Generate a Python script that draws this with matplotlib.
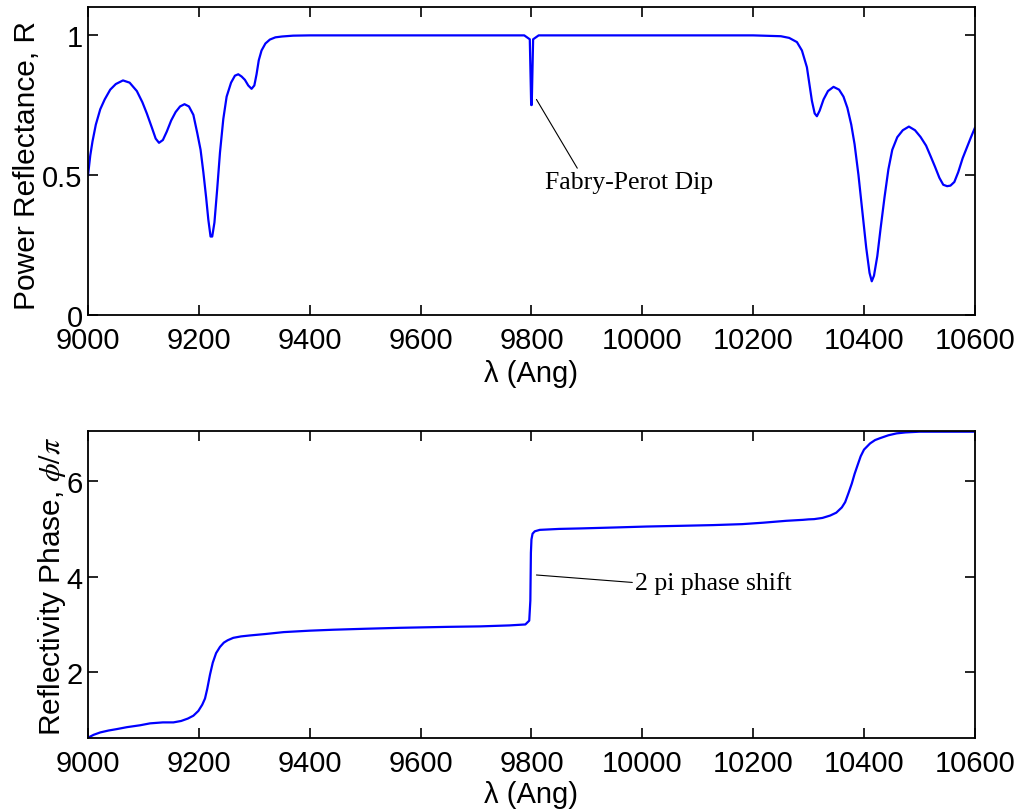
"""Reflectance and reflection phase of a DBR with a Fabry-Perot defect.

Output: out.png
"""

import matplotlib
matplotlib.use("Agg")
import matplotlib.pyplot as plt

# --- Power reflectance ---
wl_r = [9000, 9004, 9008, 9014, 9022, 9030, 9040, 9050, 9063, 9075, 9088, 9098,
        9106, 9115, 9122, 9128, 9135, 9142, 9150, 9158, 9166, 9174, 9182, 9190,
        9197, 9203, 9208, 9213, 9217, 9221, 9224, 9228, 9233, 9238, 9244, 9250,
        9258, 9265, 9271, 9277, 9283, 9289, 9295, 9300, 9304, 9308, 9313, 9320,
        9328, 9338, 9350, 9370, 9400, 9787, 9797, 9799.5, 9800.5, 9803, 9813,
        10200, 10250, 10265, 10279, 10288, 10297, 10306, 10311, 10315, 10320,
        10327, 10335, 10345, 10355, 10363, 10370, 10377, 10383, 10390, 10397,
        10404, 10410, 10414, 10418, 10424, 10430, 10437, 10444, 10451, 10460,
        10470, 10481, 10492, 10502, 10512, 10520, 10528, 10536, 10543, 10550,
        10556, 10563, 10570, 10578, 10586, 10593, 10600]
refl = [0.50, 0.57, 0.62, 0.68, 0.735, 0.77, 0.805, 0.825, 0.838, 0.83, 0.80, 0.76,
        0.72, 0.67, 0.63, 0.615, 0.625, 0.655, 0.695, 0.725, 0.745, 0.753, 0.745, 0.715,
        0.65, 0.59, 0.51, 0.42, 0.34, 0.28, 0.28, 0.33, 0.45, 0.58, 0.70, 0.78,
        0.83, 0.855, 0.86, 0.852, 0.84, 0.82, 0.808, 0.82, 0.86, 0.91, 0.945, 0.97,
        0.984, 0.992, 0.995, 0.998, 0.999, 0.999, 0.985, 0.75, 0.75, 0.985, 0.999,
        0.999, 0.996, 0.99, 0.975, 0.945, 0.885, 0.765, 0.72, 0.71, 0.73,
        0.77, 0.80, 0.815, 0.805, 0.78, 0.74, 0.68, 0.61, 0.50, 0.37,
        0.24, 0.15, 0.12, 0.14, 0.21, 0.31, 0.42, 0.52, 0.59, 0.635,
        0.66, 0.673, 0.66, 0.636, 0.605, 0.568, 0.53, 0.49, 0.465, 0.46,
        0.462, 0.475, 0.51, 0.56, 0.60, 0.635, 0.668]

# --- Reflectivity phase / pi ---
wl_p = [9000, 9010, 9022, 9037, 9052, 9070, 9094, 9112, 9135, 9154, 9168, 9180,
        9190, 9199, 9206, 9211, 9215, 9220, 9225, 9231, 9238, 9245, 9252, 9262,
        9276, 9292, 9320, 9353, 9400, 9443, 9500, 9563, 9650, 9708, 9760, 9789,
        9796, 9798, 9799, 9800, 9802, 9806, 9815, 9850, 9888, 9950, 10008, 10070,
        10128, 10180, 10218, 10260, 10290, 10300, 10310, 10325, 10339, 10350,
        10360, 10366, 10372, 10378, 10383, 10388, 10394, 10400, 10411, 10420,
        10429, 10444, 10459, 10475, 10500, 10560, 10600]
phase = [0.63, 0.69, 0.74, 0.78, 0.81, 0.85, 0.89, 0.93, 0.95, 0.95, 0.98, 1.03,
         1.09, 1.19, 1.32, 1.45, 1.65, 1.95, 2.20, 2.40, 2.53, 2.62, 2.67, 2.72,
         2.75, 2.77, 2.80, 2.84, 2.87, 2.89, 2.91, 2.93, 2.95, 2.96, 2.98, 3.00,
         3.08, 3.50, 4.50, 4.78, 4.90, 4.95, 4.98, 5.00, 5.01, 5.03, 5.05, 5.065,
         5.08, 5.10, 5.13, 5.17, 5.19, 5.20, 5.205, 5.23, 5.28, 5.34,
         5.45, 5.56, 5.75, 5.95, 6.15, 6.32, 6.52, 6.66, 6.79, 6.86,
         6.90, 6.96, 7.00, 7.02, 7.035, 7.035, 7.035]

x_ticks = [9000, 9200, 9400, 9600, 9800, 10000, 10200, 10400, 10600]

plt.rcParams["font.family"] = ["Liberation Sans", "DejaVu Sans"]
plt.rcParams["mathtext.fontset"] = "stix"

fig = plt.figure(figsize=(10.24, 8.12), dpi=100)
ax1 = fig.add_axes([0.086, 0.611, 0.866, 0.379])
ax2 = fig.add_axes([0.086, 0.090, 0.866, 0.378])

line_kw = dict(color="#0000ff", linewidth=1.6)
ax1.plot(wl_r, refl, **line_kw)
ax2.plot(wl_p, phase, **line_kw)

ax1.set_ylim(0, 1.1)
ax1.set_yticks([0, 0.5, 1])
ax1.set_yticklabels(["0", "0.5", "1"])
ax2.set_ylim(0.625, 7.05)
ax2.set_yticks([2, 4, 6])

for ax in (ax1, ax2):
    ax.set_xlim(9000, 10600)
    ax.set_xticks(x_ticks)
    ax.tick_params(direction="in", top=True, right=True, length=7, width=1.2,
                   labelsize=21)
    ax.tick_params(axis="x", pad=8)
    ax.tick_params(axis="y", pad=4)
    for s in ax.spines.values():
        s.set_linewidth(1.3)
    ax.set_xlabel("λ (Ang)", fontsize=21)

ax1.xaxis.set_label_coords(0.5, -0.144)
ax2.xaxis.set_label_coords(0.5, -0.138)

ax1.set_ylabel("Power Reflectance, R", fontsize=21.5)
ax1.yaxis.set_label_coords(-0.053, 0.49)
ax2.set_ylabel(r"Reflectivity Phase, $\phi/\pi$", fontsize=21.5)
ax2.yaxis.set_label_coords(-0.0225, 0.498)

# --- Annotations ---
serif = ["Liberation Serif", "DejaVu Serif"]
ax1.annotate("Fabry-Perot Dip", xy=(9809, 0.77), xytext=(9825, 0.475),
             fontsize=18.5, family=serif, va="center", ha="left",
             arrowprops=dict(arrowstyle="-", color="black", linewidth=0.8,
                             shrinkA=0, shrinkB=0, relpos=(0.2, 1.0)))
ax2.annotate("2 pi phase shift", xy=(9804, 4.04), xytext=(9987, 3.875),
             fontsize=18.5, family=serif, va="center", ha="left",
             arrowprops=dict(arrowstyle="-", color="black", linewidth=0.8,
                             shrinkA=0, shrinkB=2, relpos=(0.0, 0.5)))

fig.savefig("out.png", dpi=100)
